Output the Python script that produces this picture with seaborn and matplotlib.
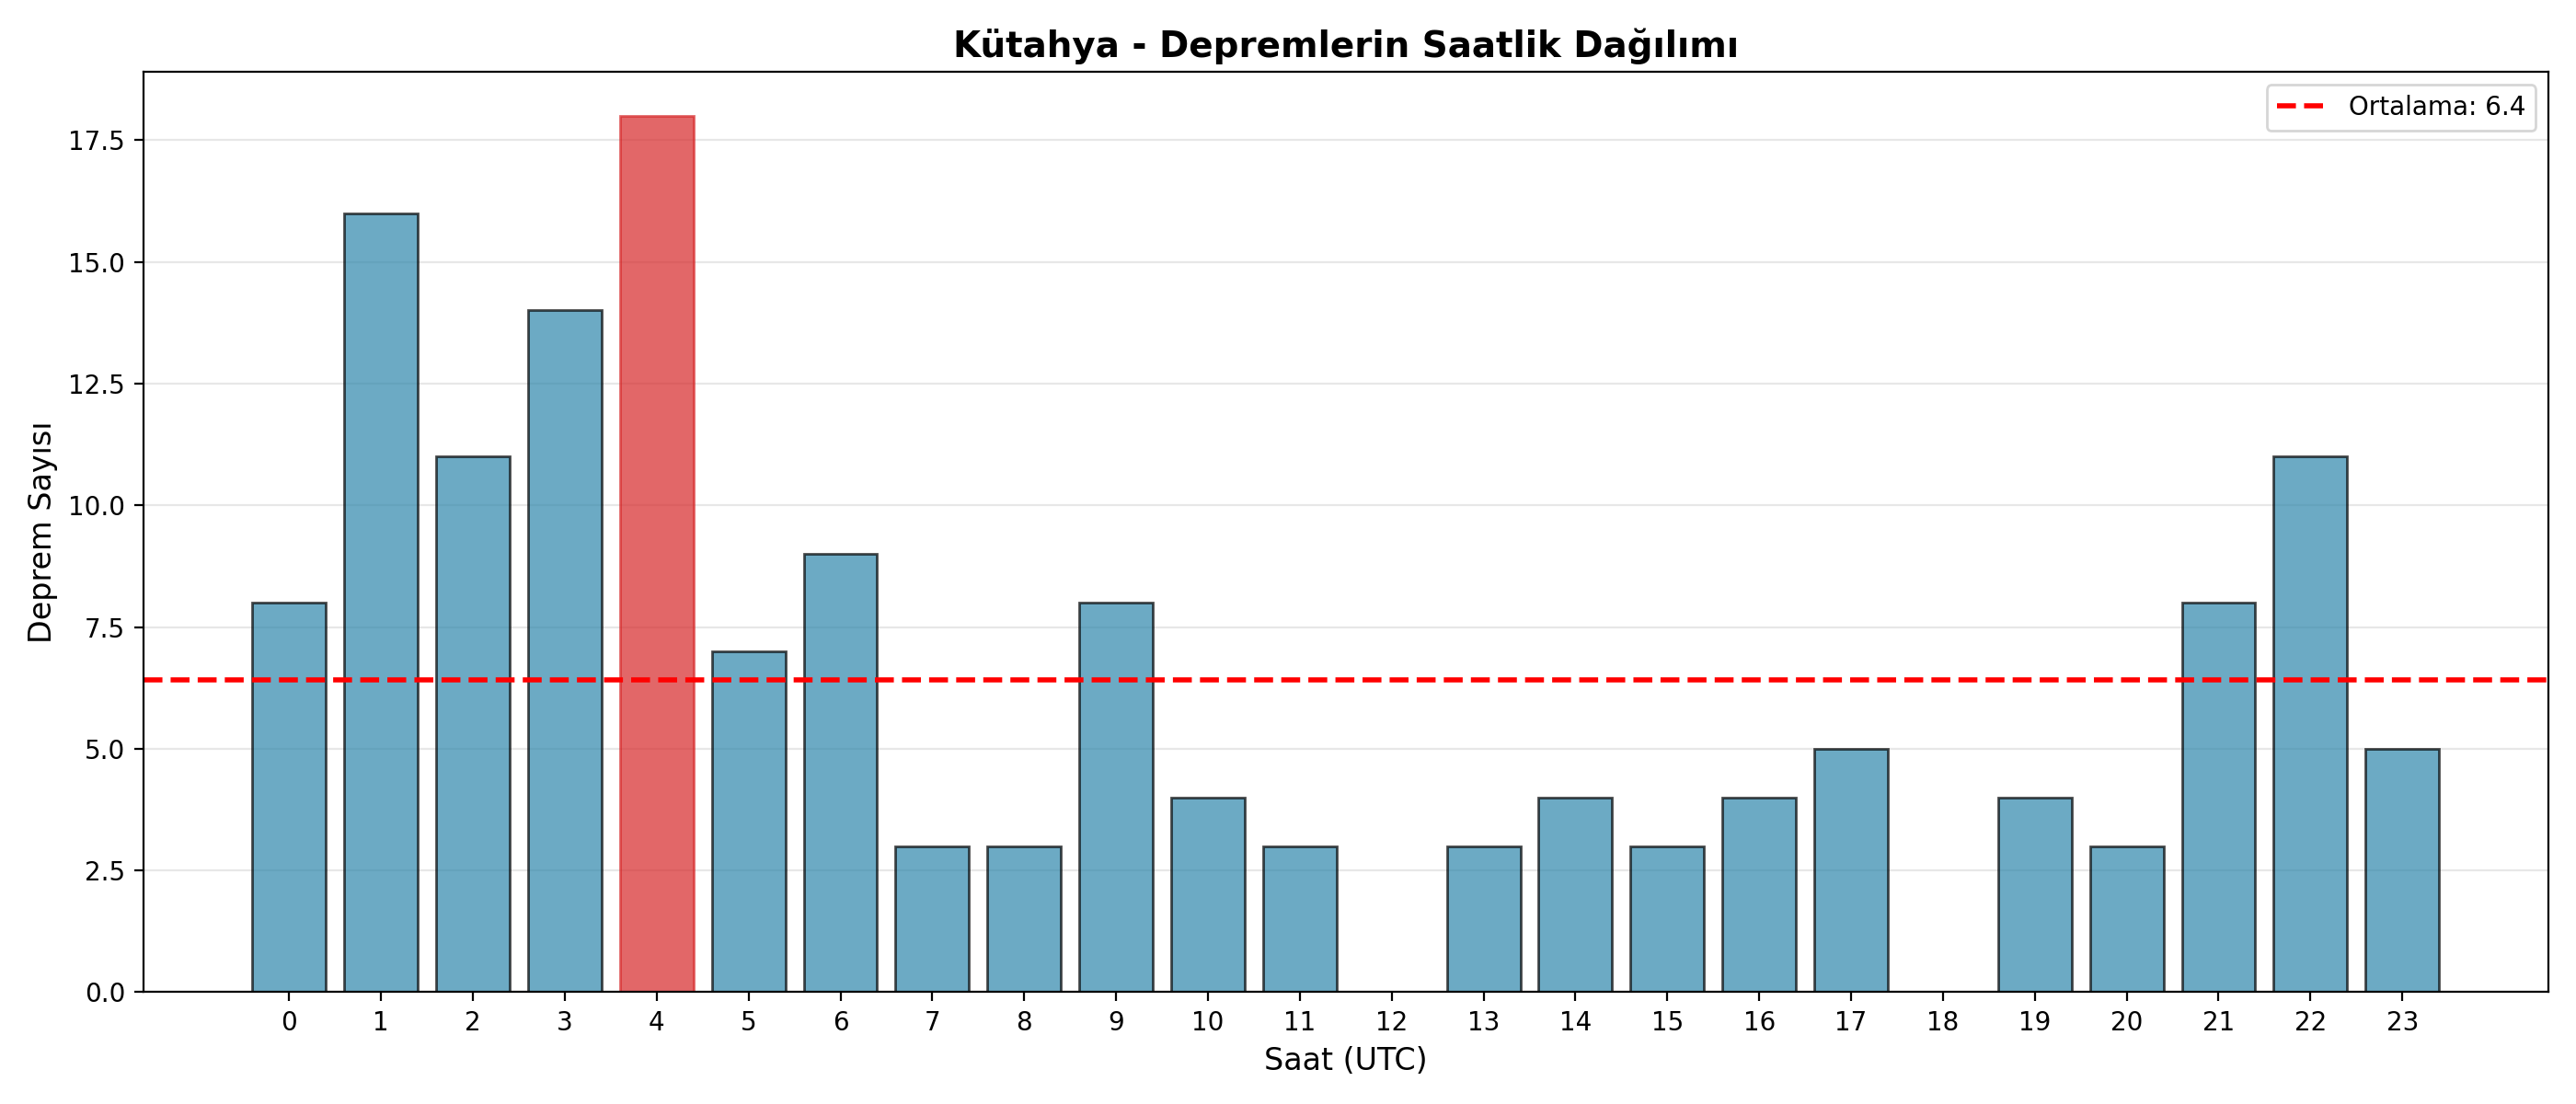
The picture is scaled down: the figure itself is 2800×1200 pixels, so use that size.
import numpy as np
import pandas as pd
import matplotlib
matplotlib.use("Agg")
import matplotlib.pyplot as plt
import seaborn as sns

hours = list(range(24))
counts = [8, 16, 11, 14, 18, 7, 9, 3, 3, 8, 4, 3, 0, 3, 4, 3, 4, 5, 0, 4, 3, 8, 11, 5]
title = "Kütahya - Depremlerin Saatlik Dağılımı"
xlabel = "Saat (UTC)"
ylabel = "Deprem Sayısı"

df = pd.DataFrame({"hour": hours, "count": counts})
mean_val = float(np.mean(counts))
max_idx = int(np.argmax(counts))

fig, ax = plt.subplots(figsize=(14, 6), dpi=200)
sns.barplot(data=df, x="hour", y="count", native_scale=True, color="#2E86AB",
            saturation=1, alpha=0.7, edgecolor="black", linewidth=1,
            width=0.8, errorbar=None, ax=ax)
bars = [p for p in ax.patches]
bars[max_idx].set_color("#d62728")
bars[max_idx].set_alpha(0.7)

ax.axhline(mean_val, color="red", linestyle="--", linewidth=2,
           label=f"Ortalama: {mean_val:.1f}")

ax.set_xticks(hours)
ax.set_xticklabels([str(h) for h in hours])
ax.set_xlim(-0.4 - 0.05 * 23.8, 23.4 + 0.05 * 23.8)
ax.set_title(title, fontsize=14, fontweight="bold")
ax.set_xlabel(xlabel, fontsize=12)
ax.set_ylabel(ylabel, fontsize=12)
ax.grid(axis="y", alpha=0.3)
ax.set_axisbelow(True)
ax.legend(loc="upper right")
fig.tight_layout()
fig.savefig("out.png", dpi=200)
